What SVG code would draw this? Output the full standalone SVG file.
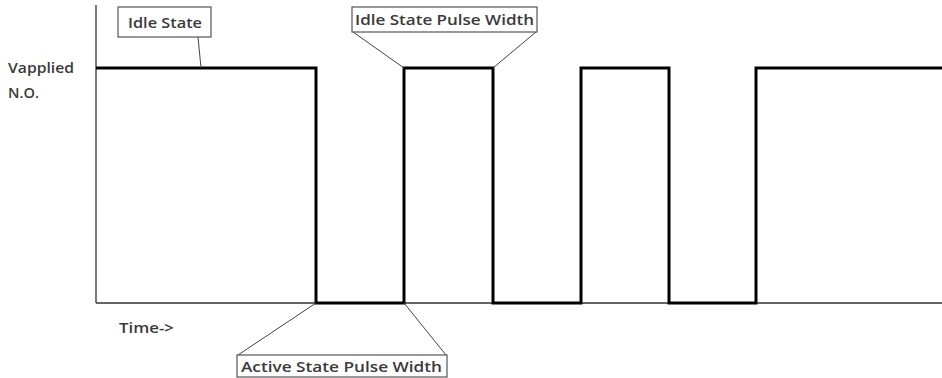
<svg xmlns="http://www.w3.org/2000/svg" width="942" height="378" viewBox="0 0 942 378">
<style>
.t{font-family:"Open Sans","Liberation Sans",sans-serif;font-size:15px;font-weight:600;fill:#3a3a3a;}
.box{fill:#fff;stroke:#555;stroke-width:1.2;}
.lead{fill:none;stroke:#444;stroke-width:1;}
.axis{fill:none;stroke:#333;stroke-width:1.3;}
.sig{fill:none;stroke:#000;stroke-width:3;stroke-linejoin:miter;}
</style>
<rect width="942" height="378" fill="#fff"/>
<g id="axes">
<line class="axis" x1="96" y1="5" x2="96" y2="303"/>
<line class="axis" x1="96" y1="303" x2="942" y2="303"/>
</g>
<g id="signal">
<polyline class="sig" points="96,68 316,68 316,303 404,303 404,68 493,68 493,303 581,303 581,68 669,68 669,303 756,303 756,68 942,68"/>
</g>
<g id="connectors">
<line class="lead" x1="198" y1="37" x2="201" y2="68"/>
<line class="lead" x1="353" y1="32" x2="404" y2="68"/>
<line class="lead" x1="536" y1="32" x2="493" y2="68"/>
<line class="lead" x1="316" y1="303" x2="238" y2="355"/>
<line class="lead" x1="404" y1="303" x2="446" y2="355"/>
</g>
<g id="label-vapplied">
<text class="t" x="8" y="73" textLength="66" lengthAdjust="spacingAndGlyphs">Vapplied</text>
<text class="t" x="8" y="98" textLength="31" lengthAdjust="spacingAndGlyphs">N.O.</text>
</g>
<g id="label-time">
<text class="t" x="119" y="333" textLength="55" lengthAdjust="spacingAndGlyphs">Time-&gt;</text>
</g>
<g id="idle-state">
<rect class="box" x="118" y="7" width="93" height="30"/>
<text class="t" x="128" y="28" textLength="74" lengthAdjust="spacingAndGlyphs">Idle State</text>
</g>
<g id="idle-pulse-width">
<rect class="box" x="352" y="7" width="185" height="25"/>
<text class="t" x="355" y="25" textLength="179" lengthAdjust="spacingAndGlyphs">Idle State Pulse Width</text>
</g>
<g id="active-pulse-width">
<rect class="box" x="237" y="355" width="210" height="22"/>
<text class="t" x="241" y="372" textLength="201" lengthAdjust="spacingAndGlyphs">Active State Pulse Width</text>
</g>
</svg>
